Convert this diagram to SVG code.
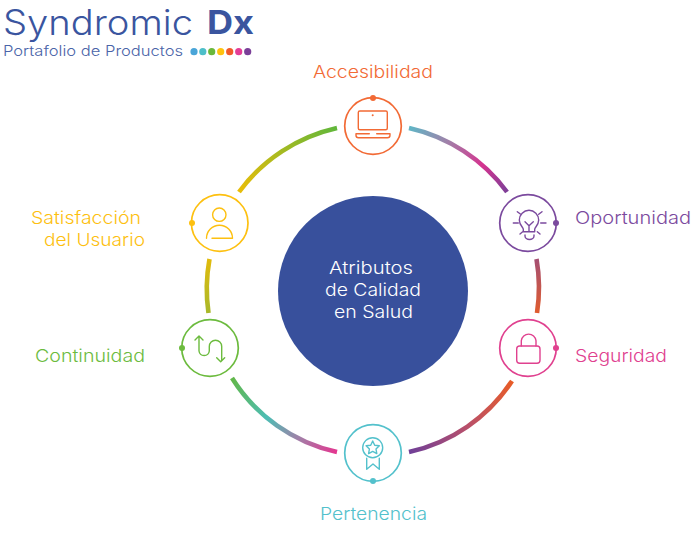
<svg xmlns="http://www.w3.org/2000/svg" width="700" height="547" viewBox="0 0 700 547">
<style>
text{font-family:"Inter","Liberation Sans",sans-serif}
.lab{font-size:17.5px;font-weight:300}
.ring{fill:#fff;stroke-width:1.7}
.ic{fill:none;stroke-width:1.4;stroke-linecap:round;stroke-linejoin:round}
.arc{fill:none;stroke-width:4.6}
.cen{font-size:17.5px;fill:#fff;font-weight:300}
</style>
<defs>
<linearGradient id="g1" gradientUnits="userSpaceOnUse" x1="409" y1="128" x2="507" y2="192"><stop offset="0" stop-color="#5fb6c6"/><stop offset=".35" stop-color="#a27fa8"/><stop offset=".7" stop-color="#d5338f"/><stop offset="1" stop-color="#7d3f98"/></linearGradient>
<linearGradient id="g2" gradientUnits="userSpaceOnUse" x1="537" y1="259" x2="537" y2="313"><stop offset="0" stop-color="#a54f72"/><stop offset="1" stop-color="#e05c2e"/></linearGradient>
<linearGradient id="g3" gradientUnits="userSpaceOnUse" x1="512" y1="381" x2="409" y2="452"><stop offset="0" stop-color="#e85c27"/><stop offset=".5" stop-color="#b9506a"/><stop offset="1" stop-color="#6f3f98"/></linearGradient>
<linearGradient id="g4" gradientUnits="userSpaceOnUse" x1="232" y1="378" x2="337" y2="452"><stop offset="0" stop-color="#62b749"/><stop offset=".4" stop-color="#4dbdb4"/><stop offset=".7" stop-color="#a27fa8"/><stop offset="1" stop-color="#e4358f"/></linearGradient>
<linearGradient id="g5" gradientUnits="userSpaceOnUse" x1="210" y1="259" x2="208" y2="313"><stop offset="0" stop-color="#e2bb0c"/><stop offset="1" stop-color="#a8b82a"/></linearGradient>
<linearGradient id="g6" gradientUnits="userSpaceOnUse" x1="239" y1="192" x2="337" y2="128"><stop offset="0" stop-color="#e9bd08"/><stop offset="1" stop-color="#60b73b"/></linearGradient>
</defs>
<g id="logo">
<text x="3" y="35" font-size="35" font-weight="300" fill="#3a559f" textLength="190" lengthAdjust="spacingAndGlyphs">Syndromic</text>
<text x="207" y="33.500" font-size="33" font-weight="700" fill="#3a559f" textLength="47" lengthAdjust="spacingAndGlyphs">Dx</text>
<text x="3" y="56" font-size="14.500" font-weight="300" fill="#4a64a8" textLength="180" lengthAdjust="spacingAndGlyphs">Portafolio de Productos</text>
<circle cx="194" cy="51.700" r="3.600" fill="#4aa5d8"/><circle cx="202.800" cy="51.700" r="3.600" fill="#4dbfc9"/><circle cx="211.700" cy="51.700" r="3.600" fill="#6ab83b"/><circle cx="220.700" cy="51.700" r="3.600" fill="#ffc20e"/><circle cx="229.700" cy="51.700" r="3.600" fill="#f15a29"/><circle cx="238.700" cy="51.700" r="3.600" fill="#e43d96"/><circle cx="247.700" cy="51.700" r="3.600" fill="#7b3f98"/>
</g>
<g id="connectors">
<path class="arc" stroke="url(#g1)" d="M409 128A167 167 0 0 1 507 192"/>
<path class="arc" stroke="url(#g2)" d="M536.500 259A167 167 0 0 1 537 313"/>
<path class="arc" stroke="url(#g3)" d="M512 381A166 166 0 0 1 409 452"/>
<path class="arc" stroke="url(#g4)" d="M232 378A166 166 0 0 0 337 452"/>
<path class="arc" stroke="url(#g5)" d="M209.500 259A167 167 0 0 0 208.500 313"/>
<path class="arc" stroke="url(#g6)" d="M239 192A167 167 0 0 1 337 128"/>
</g>
<g id="center"><circle cx="373" cy="291" r="95" fill="#38509c"/>
<text class="cen" x="329" y="274" textLength="84" lengthAdjust="spacingAndGlyphs">Atributos</text><text class="cen" x="325" y="296" textLength="96" lengthAdjust="spacingAndGlyphs">de Calidad</text><text class="cen" x="334" y="318" textLength="79" lengthAdjust="spacingAndGlyphs">en Salud</text></g>
<g id="accesibilidad">
<text class="lab" x="313" y="78" fill="#f26a35" textLength="120" lengthAdjust="spacingAndGlyphs">Accesibilidad</text>
<circle class="ring" cx="373" cy="126" r="28.300" stroke="#f26a35"/><circle cx="373" cy="98" r="3" fill="#f26a35"/>
<g class="ic" stroke="#f26a35"><rect x="358.300" y="111" width="29" height="18.700" rx="1.500"/><path d="M369.300 133.700H356v1.500q0 2.500 2.500 2.500h29q2.500 0 2.500-2.500v-1.500H376.700"/></g><circle cx="372.700" cy="115.300" r="1" fill="#f26a35"/>
</g>
<g id="oportunidad">
<text class="lab" x="575" y="224" fill="#7b4a9e" textLength="116" lengthAdjust="spacingAndGlyphs">Oportunidad</text>
<circle class="ring" cx="528" cy="223" r="28.300" stroke="#7b4a9e"/><circle cx="556" cy="223" r="3" fill="#7b4a9e"/>
<g class="ic" stroke="#7b4a9e"><path d="M523.300 231.700v-2.500c0-2-4-4-4-9.200a9.700 9.700 0 0 1 19.400 0c0 5.200-4 7.200-4 9.200v2.500zM525 221.700l4 4 4.300-4M529 225.700v6M525 235v1a4.500 3.500 0 0 0 9 0v-1M513.300 223h5M540.700 223h5.300M517.300 211.700l3.400 2.600M542 211.700l-3.300 2.600M520 234l2.700-2.300M540 234l-2.700-2.300"/></g>
</g>
<g id="seguridad">
<text class="lab" x="575" y="362" fill="#e0418f" textLength="92" lengthAdjust="spacingAndGlyphs">Seguridad</text>
<circle class="ring" cx="528" cy="348" r="28.300" stroke="#e0418f"/><circle cx="556" cy="348" r="3" fill="#e0418f"/>
<g class="ic" stroke="#e0418f"><rect x="516.700" y="346" width="23.300" height="17.300" rx="3"/><path d="M521.300 346v-5.300a7.400 7.400 0 0 1 14.700 0V346"/></g>
</g>
<g id="pertenencia">
<text class="lab" x="320" y="520" fill="#53c1cc" textLength="107" lengthAdjust="spacingAndGlyphs">Pertenencia</text>
<circle class="ring" cx="373" cy="453" r="28.300" stroke="#53c1cc"/><circle cx="373" cy="481" r="3" fill="#53c1cc"/>
<g class="ic" stroke="#53c1cc"><circle cx="372.700" cy="447.700" r="10"/><path d="M372.700 441l2 4.200 4.600.6-3.300 3.200.8 4.600-4.100-2.200-4.100 2.200.8-4.600-3.300-3.200 4.600-.6zM366.700 458.300v11l6.300-5.300 6.300 5.300v-11"/></g>
</g>
<g id="continuidad">
<text class="lab" x="35" y="362" fill="#6cbb3e" textLength="110" lengthAdjust="spacingAndGlyphs">Continuidad</text>
<circle class="ring" cx="210" cy="348" r="28.300" stroke="#6cbb3e"/><circle cx="182" cy="348" r="3" fill="#6cbb3e"/>
<g class="ic" stroke="#6cbb3e"><path d="M195 340l4-4 4 4M199 338v13a5.200 5.200 0 0 0 10.300 0v-4.500a6.200 6.200 0 0 1 12.400 0v14M216.700 357.700l4 4 4-4"/></g>
</g>
<g id="satisfaccion">
<text class="lab" x="31" y="224" fill="#fdc010" textLength="110" lengthAdjust="spacingAndGlyphs">Satisfacción</text>
<text class="lab" x="44" y="246" fill="#fdc010" textLength="101" lengthAdjust="spacingAndGlyphs">del Usuario</text>
<circle class="ring" cx="219.700" cy="223" r="28.300" stroke="#fdc010"/><circle cx="192" cy="223" r="3" fill="#fdc010"/>
<g class="ic" stroke="#fdc010"><circle cx="219.300" cy="214.700" r="6.700"/><path d="M206.500 238.300a13 13 0 0 1 26 0H212"/></g>
</g>
</svg>
